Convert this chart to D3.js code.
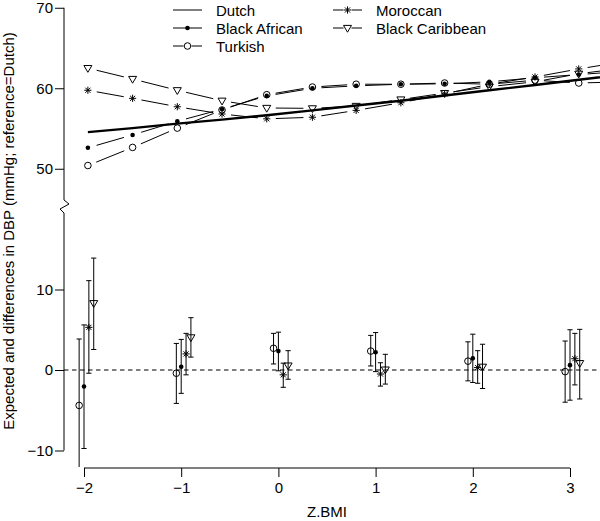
<!DOCTYPE html>
<html>
<head>
<meta charset="utf-8">
<script src="https://cdn.jsdelivr.net/npm/d3@7"></script>
<style>
  html, body { margin: 0; padding: 0; background: #fff; }
  svg { display: block; font-family: "Liberation Sans", Arial, Helvetica, sans-serif; }
</style>
</head>
<body>
<svg id="chart" width="600" height="521"></svg>
<script>
// ---------- DATA ----------
// Top panel: expected DBP (mmHg) by Z.BMI
const zTop = [-1.96, -1.50, -1.04, -0.58, -0.12, 0.35, 0.80, 1.26, 1.71, 2.17, 2.64, 3.09, 3.55];
const dutch          = [54.55, 55.05, 55.6, 56.1, 56.65, 57.25, 57.85, 58.45, 59.1, 59.75, 60.4, 61.05, 61.7];
const blackAfrican   = [52.6, 54.2, 55.9, 57.4, 59.05, 60.0, 60.3, 60.5, 60.55, 60.8, 61.3, 61.7, 62.1];
const turkish        = [50.4, 52.65, 55.05, 57.3, 59.2, 60.15, 60.5, 60.5, 60.65, 60.5, 61.0, 60.65, 60.8];
const moroccan       = [59.75, 58.75, 57.7, 56.8, 56.2, 56.4, 57.25, 58.2, 59.3, 60.5, 61.4, 62.4, 63.3];
const blackCaribbean = [62.5, 61.15, 59.75, 58.45, 57.55, 57.5, 57.8, 58.6, 59.4, 60.2, 60.8, 61.8, 62.5];

// Bottom panel: differences vs Dutch with 95% CI
const zBot = [-2, -1, 0, 1, 2, 3];
const turkishDiff = [-4.4, -0.4, 2.7, 2.35, 1.1, -0.2];
const turkishLo   = [-13, -4.15, 0.75, 0.5, -1.35, -4.0];
const turkishHi   = [3.85, 3.3, 4.55, 4.3, 3.5, 3.6];
const baDiff = [-2.05, 0.4, 2.35, 2.2, 1.45, 0.6];
const baLo   = [-9.75, -2.9, -0.1, -0.2, -1.55, -3.75];
const baHi   = [5.6, 3.8, 4.7, 4.65, 4.45, 5.0];
const morDiff = [5.3, 2.0, -0.6, -0.5, 0.3, 1.4];
const morLo   = [-0.4, -0.6, -2.15, -2.0, -1.65, -1.85];
const morHi   = [11.1, 4.55, 0.85, 0.9, 2.4, 4.55];
const bcDiff = [8.3, 4.05, 0.55, 0.05, 0.4, 0.85];
const bcLo   = [2.55, 1.6, -1.15, -1.75, -2.3, -3.6];
const bcHi   = [13.9, 6.5, 2.4, 1.95, 3.2, 5.05];

const xTicks = [-2, -1, 0, 1, 2, 3];
const yTopTicks = [50, 60, 70];
const yBotTicks = [-10, 0, 10];
const groupNames = ["Dutch", "Black African", "Turkish", "Moroccan", "Black Caribbean"];

// ---------- SCALES ----------
const svg = d3.select("#chart");
const x = d3.scaleLinear().domain([-2, 3]).range([84, 570]);
const yTop = d3.scaleLinear().domain([50, 70]).range([168.75, 7.75]);
const yBot = d3.scaleLinear().domain([-10, 10]).range([450.5, 289.5]);
const axisX = 64, plotRight = 600, xAxisY = 468;
const FS = "15px";

const defs = svg.append("defs");
defs.append("clipPath").attr("id", "clipTop").append("rect")
  .attr("x", axisX).attr("y", 0).attr("width", plotRight - axisX).attr("height", 200);
defs.append("clipPath").attr("id", "clipBot").append("rect")
  .attr("x", axisX).attr("y", 215).attr("width", plotRight - axisX).attr("height", xAxisY - 215 - 1);

// ---------- MARKERS ----------
function marker(g, type, cx, cy) {
  if (type === "filled") {
    g.append("circle").attr("cx", cx).attr("cy", cy).attr("r", 2.3).attr("fill", "#000");
  } else if (type === "open") {
    g.append("circle").attr("cx", cx).attr("cy", cy).attr("r", 3.3)
      .attr("fill", "none").attr("stroke", "#000").attr("stroke-width", 1);
  } else if (type === "star") {
    const r = 3.6;
    [0, 45, 90, 135].forEach(a => {
      const rad = a * Math.PI / 180;
      g.append("line")
        .attr("x1", cx - r * Math.cos(rad)).attr("y1", cy - r * Math.sin(rad))
        .attr("x2", cx + r * Math.cos(rad)).attr("y2", cy + r * Math.sin(rad))
        .attr("stroke", "#000").attr("stroke-width", 1);
    });
  } else if (type === "tri") {
    const p = [[cx - 4, cy - 2.6], [cx + 4, cy - 2.6], [cx, cy + 4.2]];
    g.append("path").attr("d", "M" + p.map(d => d.join(",")).join("L") + "Z")
      .attr("fill", "none").attr("stroke", "#000").attr("stroke-width", 1);
  }
}

// ---------- TOP PANEL ----------
const topG = svg.append("g").attr("clip-path", "url(#clipTop)");
// Dutch thick line
topG.append("path")
  .datum(zTop.map((z, i) => [z, dutch[i]]))
  .attr("d", d3.line().x(d => x(d[0])).y(d => yTop(d[1])))
  .attr("fill", "none").attr("stroke", "#000").attr("stroke-width", 2.4);

const topSeries = [
  { vals: blackAfrican, m: "filled" },
  { vals: turkish, m: "open" },
  { vals: moroccan, m: "star" },
  { vals: blackCaribbean, m: "tri" }
];
const gap = 9;
topSeries.forEach(s => {
  const pts = zTop.map((z, i) => [x(z), yTop(s.vals[i])]);
  for (let i = 0; i < pts.length - 1; i++) {
    const [x1, y1] = pts[i], [x2, y2] = pts[i + 1];
    const len = Math.hypot(x2 - x1, y2 - y1);
    const ux = (x2 - x1) / len, uy = (y2 - y1) / len;
    topG.append("line")
      .attr("x1", x1 + ux * gap).attr("y1", y1 + uy * gap)
      .attr("x2", x2 - ux * gap).attr("y2", y2 - uy * gap)
      .attr("stroke", "#000").attr("stroke-width", 1);
  }
  pts.forEach(p => marker(topG, s.m, p[0], p[1]));
});

// ---------- BOTTOM PANEL ----------
const botG = svg.append("g").attr("clip-path", "url(#clipBot)");
botG.append("line")
  .attr("x1", axisX).attr("x2", plotRight)
  .attr("y1", yBot(0)).attr("y2", yBot(0))
  .attr("stroke", "#000").attr("stroke-width", 1).attr("stroke-dasharray", "4.5,3.5");

const botSeries = [
  { d: turkishDiff, lo: turkishLo, hi: turkishHi, m: "open", dz: -0.05 },
  { d: baDiff, lo: baLo, hi: baHi, m: "filled", dz: 0 },
  { d: morDiff, lo: morLo, hi: morHi, m: "star", dz: 0.05 },
  { d: bcDiff, lo: bcLo, hi: bcHi, m: "tri", dz: 0.10 }
];
const cap = 2.6;
botSeries.forEach(s => {
  zBot.forEach((z, i) => {
    const cx = x(z + s.dz);
    const yl = yBot(s.lo[i]), yh = yBot(s.hi[i]);
    botG.append("line").attr("x1", cx).attr("x2", cx).attr("y1", yl).attr("y2", yh)
      .attr("stroke", "#000").attr("stroke-width", 1);
    [yl, yh].forEach(yy => botG.append("line")
      .attr("x1", cx - cap).attr("x2", cx + cap).attr("y1", yy).attr("y2", yy)
      .attr("stroke", "#000").attr("stroke-width", 1));
    marker(botG, s.m, cx, yBot(s.d[i]));
  });
});

// ---------- AXES ----------
const axStyle = g => {
  g.selectAll(".domain").remove();
  g.selectAll(".tick line").attr("stroke", "#000");
  g.selectAll(".tick text").attr("fill", "#000").style("font-size", FS)
    .style("font-family", "'Liberation Sans', Arial, sans-serif");
};
svg.append("g").attr("transform", `translate(${axisX},0)`)
  .call(d3.axisLeft(yTop).tickValues(yTopTicks).tickSize(9).tickPadding(2))
  .call(axStyle);
svg.append("g").attr("transform", `translate(${axisX},0)`)
  .call(d3.axisLeft(yBot).tickValues(yBotTicks).tickSize(9).tickFormat(d => d < 0 ? "\u2212" + Math.abs(d) : d).tickPadding(2))
  .call(axStyle);

// y axis line with break
const brkTop = 200, brkBot = 213;
svg.append("path")
  .attr("d", `M${axisX},${yTop(70)}L${axisX},${brkTop}L${axisX + 5},${brkTop + 4}L${axisX - 4},${brkTop + 9}L${axisX},${brkBot}L${axisX},${yBot(-10)}`)
  .attr("fill", "none").attr("stroke", "#000").attr("stroke-width", 1);

// x axis
svg.append("g").attr("transform", `translate(0,${xAxisY})`)
  .call(d3.axisBottom(x).tickValues(xTicks).tickSize(9).tickPadding(5)
    .tickFormat(d => d < 0 ? "\u2212" + Math.abs(d) : d))
  .call(axStyle);
svg.append("line").attr("x1", x(-2)).attr("x2", x(3)).attr("y1", xAxisY).attr("y2", xAxisY)
  .attr("stroke", "#000").attr("stroke-width", 1);

// titles
svg.append("text").attr("x", 327).attr("y", 517).attr("text-anchor", "middle")
  .style("font-size", FS).text("Z.BMI");
svg.append("text").attr("transform", "translate(14,231) rotate(-90)")
  .attr("text-anchor", "middle").style("font-size", FS)
  .text("Expected and differences in DBP (mmHg; reference=Dutch)");

// ---------- LEGEND ----------
const legendItems = [
  { name: groupNames[0], m: null, col: 0, row: 0 },
  { name: groupNames[1], m: "filled", col: 0, row: 1 },
  { name: groupNames[2], m: "open", col: 0, row: 2 },
  { name: groupNames[3], m: "star", col: 1, row: 0 },
  { name: groupNames[4], m: "tri", col: 1, row: 1 }
];
const lg = svg.append("g");
const colX = [173, 333], rowY = [10, 28, 46], segW = 29;
legendItems.forEach(it => {
  const x0 = colX[it.col], yy = rowY[it.row], xm = x0 + segW / 2;
  if (it.m === null) {
    lg.append("line").attr("x1", x0).attr("x2", x0 + segW).attr("y1", yy).attr("y2", yy)
      .attr("stroke", "#000").attr("stroke-width", 1);
  } else {
    const g2 = it.m === "filled" ? 0 : 4;
    lg.append("line").attr("x1", x0).attr("x2", xm - g2).attr("y1", yy).attr("y2", yy)
      .attr("stroke", "#000").attr("stroke-width", 1);
    lg.append("line").attr("x1", xm + g2).attr("x2", x0 + segW).attr("y1", yy).attr("y2", yy)
      .attr("stroke", "#000").attr("stroke-width", 1);
    marker(lg, it.m, xm, yy);
  }
  lg.append("text").attr("x", x0 + 43).attr("y", yy + 5.5).style("font-size", FS).text(it.name);
});
</script>
</body>
</html>
